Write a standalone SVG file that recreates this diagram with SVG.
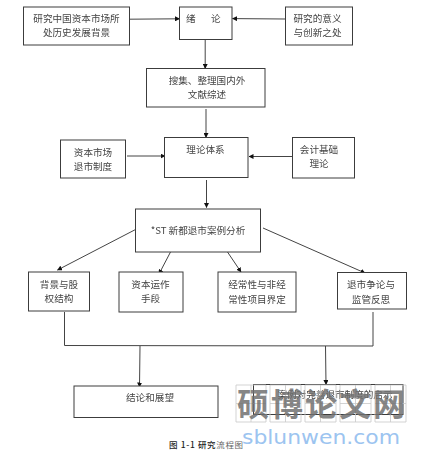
<svg xmlns="http://www.w3.org/2000/svg" width="424" height="456" viewBox="0 0 424 456">
<style>
.b{fill:#fff;stroke:#3c3c3c;stroke-width:1}
.c{fill:none;stroke:#444;stroke-width:1;marker-end:url(#a)}
.l{fill:none;stroke:#444;stroke-width:1}
.t{font-family:"Noto Sans CJK SC","DejaVu Sans",sans-serif;font-size:9.6px;fill:#444;text-anchor:middle;filter:url(#s)}
.g{fill:none;stroke:#c8c8c8;stroke-width:.8}
</style>
<defs>
<marker id="a" markerWidth="5" markerHeight="5" refX="4.5" refY="2.5" orient="auto" markerUnits="userSpaceOnUse"><path d="M0 0L5 2.5L0 5Z" fill="#111"/></marker>
<filter id="s" x="-5%" y="-20%" width="110%" height="140%"><feGaussianBlur stdDeviation="0.3"/></filter>
</defs>
<rect width="424" height="456" fill="#fff"/>
<g id="connectors">
<path class="c" d="M130 19.2L179.500 18.800"/>
<path class="c" d="M285.500 19L232.500 18.600"/>
<path class="c" d="M205.200 40V68.500"/>
<path class="c" d="M206 109V137.500"/>
<path class="c" d="M127 156H165"/>
<path class="c" d="M294 156.500H249"/>
<path class="c" d="M206.500 180V207.500"/>
<path class="c" d="M136.500 229L57.500 270"/>
<path class="c" d="M170.500 252L159 274"/>
<path class="c" d="M227.500 252L241 272"/>
<path class="c" d="M263 228L365 273"/>
<path class="l" d="M64.500 312V345.500L373 346V312"/>
<path class="c" d="M140 346L139.500 387"/>
<path class="c" d="M325.500 346L326 384.500"/>
</g>
<g id="n1"><rect class="b" x="23.500" y="7" width="106" height="38"/><text class="t" x="76.500" y="22">研究中国资本市场所</text><text class="t" x="76.500" y="36">处历史发展背景</text></g>
<g id="n2"><rect class="b" x="179.500" y="7" width="52.500" height="32.500"/><text class="t" x="186" y="22" style="text-anchor:start">绪</text><text class="t" x="211" y="22" style="text-anchor:start">论</text></g>
<g id="n3"><rect class="b" x="285.500" y="7" width="67" height="38"/><text class="t" x="317.500" y="22">研究的意义</text><text class="t" x="317.500" y="36">与创新之处</text></g>
<g id="n4"><rect class="b" x="146.500" y="68.500" width="118.500" height="38.500"/><text class="t" x="207" y="83.500">搜集、整理国内外</text><text class="t" x="207" y="97.500">文献综述</text></g>
<g id="n5"><rect class="b" x="164.500" y="137.500" width="83.500" height="40"/><text class="t" x="205.500" y="152.500">理论体系</text></g>
<g id="n6"><rect class="b" x="60.500" y="140" width="65" height="38"/><text class="t" x="93" y="156">资本市场</text><text class="t" x="93" y="170">退市制度</text></g>
<g id="n7"><rect class="b" x="292.500" y="137.500" width="62" height="40.500"/><text class="t" x="319" y="153">会计基础</text><text class="t" x="319" y="167">理论</text></g>
<g id="n8"><rect class="b" x="135.500" y="209" width="125" height="43"/><text class="t" x="198" y="233.500">*ST 新都退市案例分析</text></g>
<g id="n9"><rect class="b" x="28.500" y="272" width="61" height="39"/><text class="t" x="59" y="288">背景与股</text><text class="t" x="59" y="302">权结构</text></g>
<g id="n10"><rect class="b" x="119" y="272" width="64" height="40"/><text class="t" x="150.500" y="288">资本运作</text><text class="t" x="150.500" y="302">手段</text></g>
<g id="n11"><rect class="b" x="218" y="272" width="78" height="40"/><text class="t" x="257" y="288">经常性与非经</text><text class="t" x="257" y="303">常性项目界定</text></g>
<g id="n12"><rect class="b" x="337.500" y="272.500" width="69" height="36.500"/><text class="t" x="371" y="288">退市争论与</text><text class="t" x="371" y="303">监管反思</text></g>
<g id="n13"><rect class="b" x="74" y="386" width="144" height="31.500"/><text class="t" x="150" y="401">结论和展望</text></g>
<g id="n14"><rect class="b" x="253.500" y="384.500" width="149.500" height="30"/><text class="t" x="335" y="398">案例对完善退市制度的启示</text></g>
<g id="caption"><text x="169" y="448" style="font-family:'Noto Sans CJK SC','DejaVu Sans',sans-serif;font-size:8.500px;letter-spacing:.65px;fill:#222;font-weight:500">图 1-1 研究<tspan fill="#666" font-weight="400">流程图</tspan></text></g>
<g id="watermark">
<path class="g" d="M236 385h30v37h-30zM270 385h31v37h-31zM305 385h31v37h-31zM340 385h31v37h-31zM375 385h31v37h-31zM236 403.500h30M270 403.500h31M305 403.500h31M340 403.500h31M375 403.500h31M251 385v37M285.500 385v37M320.500 385v37M355.500 385v37M390.500 385v37"/>
<text x="237" y="416" textLength="168" style="font-family:'Noto Sans CJK SC',sans-serif;font-size:32px;font-weight:700;fill:#707070;fill-opacity:.85">硕博论文网</text>
<text x="242" y="444" textLength="158" lengthAdjust="spacingAndGlyphs" style="font-family:'DejaVu Sans',sans-serif;font-size:20px;fill:#9cc4f0">sblunwen.com</text>
</g>
</svg>
